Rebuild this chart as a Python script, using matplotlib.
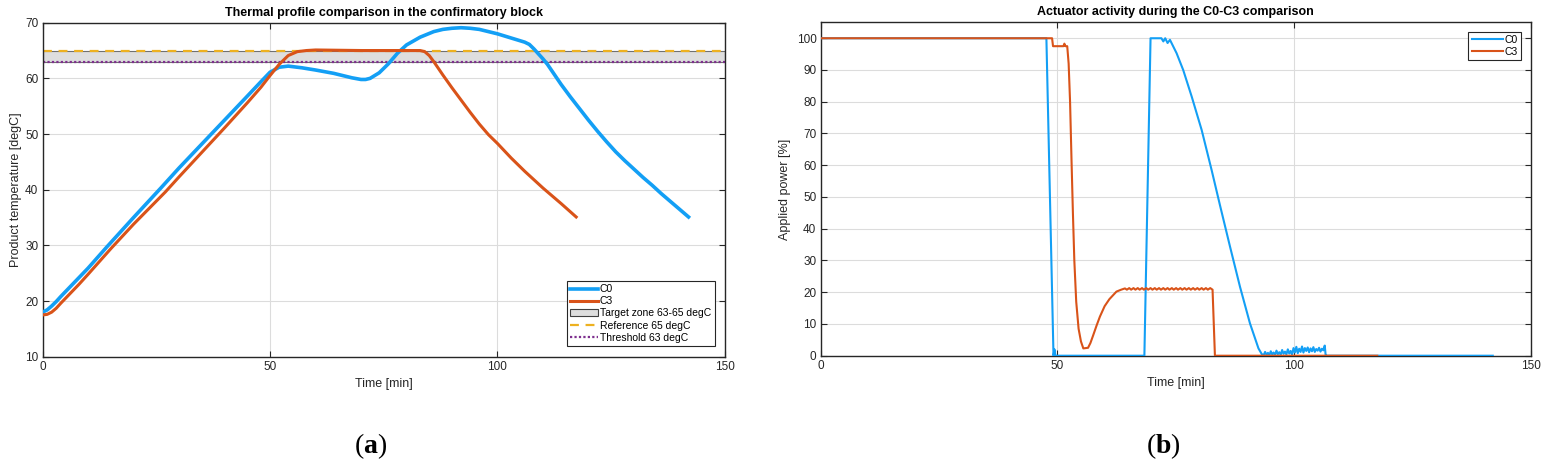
import matplotlib
matplotlib.use("Agg")
import matplotlib.pyplot as plt
from matplotlib.patches import Patch
from matplotlib.lines import Line2D

plt.rcParams['font.family'] = ['Liberation Sans', 'DejaVu Sans']
plt.rcParams['mathtext.fontset'] = 'custom'
plt.rcParams['mathtext.bf'] = 'Liberation Serif:bold'
plt.rcParams['mathtext.rm'] = 'Liberation Serif'

# ---------------- data: panel (a) product temperature ----------------
t_c0_temp = [0, 1, 2, 3, 4, 6, 8, 10, 14, 20, 26, 30, 35, 40, 45, 48, 50, 52, 54, 57, 60,
             64, 68, 70, 71, 72, 74, 76, 78, 80, 83, 86, 88, 90, 92, 94, 96, 98, 100,
             102, 104, 106, 107, 108, 109, 110, 111, 112, 114, 116, 118, 120, 122, 124,
             126, 128, 130, 132, 134, 136, 138, 140, 142]
T_c0 = [18.0, 18.4, 19.1, 19.9, 20.8, 22.5, 24.2, 25.9, 29.6, 35.0, 40.3, 43.9, 48.2, 52.5,
        56.8, 59.4, 61.1, 62.0, 62.2, 61.9, 61.5, 60.9, 60.1, 59.8, 59.8, 60.0, 61.0, 62.6,
        64.5, 66.0, 67.4, 68.4, 68.8, 69.0, 69.1, 69.0, 68.8, 68.4, 68.0,
        67.5, 67.0, 66.5, 66.1, 65.3, 64.4, 63.5, 62.5, 61.3, 58.9, 56.7, 54.6, 52.5, 50.5,
        48.6, 46.8, 45.2, 43.7, 42.2, 40.8, 39.3, 37.9, 36.5, 35.1]

t_c3_temp = [0, 1, 2, 3, 4, 6, 8, 10, 15, 20, 27, 30, 35, 40, 45, 48, 50, 52, 54, 56, 58, 60,
             70, 80, 83, 84, 85, 86, 87, 88, 90, 92, 94, 96, 98, 100, 103, 106, 108, 110,
             112, 114, 117.3]
T_c3 = [17.5, 17.6, 18.0, 18.7, 19.6, 21.3, 23.0, 24.8, 29.4, 33.8, 39.6, 42.3, 46.7, 51.1,
        55.6, 58.4, 60.5, 62.5, 64.1, 64.8, 65.0, 65.1, 65.0, 65.0, 65.0, 64.8, 64.1, 63.0,
        61.8, 60.6, 58.3, 56.1, 53.9, 51.8, 49.9, 48.3, 45.7, 43.3, 41.8, 40.3,
        38.9, 37.5, 35.1]

zone_low, zone_high = 63, 65
reference_temp = 65
threshold_temp = 63

# ---------------- data: panel (b) applied power ----------------
t_c0_pow = [0, 47.7, 49.2, 49.4, 49.6, 68.4, 69.7, 72.0, 72.4, 72.8, 73.3, 73.8, 74.3, 75.2,
            76.6, 78.4, 80.5, 82.6, 84.4, 86.5, 88.6, 90.7, 92.5, 93.2,
            93.6, 93.9, 94.2, 94.5, 94.8, 95.1, 95.4, 95.7, 96.0, 96.3, 96.6, 96.9, 97.2,
            97.5, 97.8, 98.1, 98.4, 98.7, 99.0, 99.3, 99.6, 99.9, 100.2, 100.5, 100.8,
            101.1, 101.4, 101.7, 102.0, 102.3, 102.6, 102.9, 103.2, 103.5, 103.8, 104.1,
            104.4, 104.7, 105.0, 105.3, 105.6, 105.9, 106.2, 106.5, 106.7, 106.8, 142.0]
P_c0 = [100, 100, 0, 2.0, 0, 0, 100, 100, 99.0, 100, 98.5, 99.5, 98.0, 95.3,
        90.0, 81.6, 71.1, 58.5, 47.2, 34.3, 21.7, 10.2, 2.3, 0.5,
        0.2, 1.2, 0.3, 0.9, 0.1, 1.4, 0.4, 1.0, 0.2, 1.6, 0.5, 1.1, 0.3, 1.8,
        0.6, 1.3, 0.4, 2.0, 0.7, 1.5, 0.3, 2.4, 1.0, 2.8, 0.8, 2.2, 1.2, 2.9,
        1.0, 2.4, 1.5, 2.6, 1.1, 2.3, 1.4, 2.7, 1.2, 2.1, 1.6, 2.5, 1.3, 2.2,
        1.7, 3.2, 0.0, 0.0, 0.0]

t_c3_pow = [0, 48.9, 49.1, 51.3, 51.5, 51.7, 52.1, 52.4, 52.7, 53.0, 53.3, 53.6, 54.0, 54.5,
            55.0, 55.5, 56.5, 57.0, 57.6, 58.3, 59.0, 60.0, 61.0, 62.0, 62.5, 63.5, 64.3,
            64.7, 65.2, 65.6, 66.1, 66.5, 67.0, 67.4, 67.9, 68.3, 68.8, 69.2, 69.7, 70.1,
            70.6, 71.0, 71.5, 71.9, 72.4, 72.8, 73.3, 73.7, 74.2, 74.6, 75.1, 75.5, 76.0,
            76.4, 76.9, 77.3, 77.8, 78.2, 78.7, 79.1, 79.6, 80.0, 80.5, 80.9, 81.4, 81.8,
            82.3, 82.8, 83.3, 117.6]
P_c3 = [100, 100, 97.5, 97.5, 98.3, 97.5, 97.5, 92.0, 80.0, 62.0, 45.0, 30.0, 17.0, 8.5,
        4.5, 2.3, 2.5, 4.0, 6.5, 9.5, 12.3, 15.6, 17.8, 19.4, 20.2, 20.8, 21.2,
        20.8, 21.3, 20.8, 21.3, 20.8, 21.3, 20.8, 21.3, 20.8, 21.3, 20.8, 21.3, 20.8,
        21.3, 20.8, 21.3, 20.8, 21.3, 20.8, 21.3, 20.8, 21.3, 20.8, 21.3, 20.8, 21.3,
        20.8, 21.3, 20.8, 21.3, 20.8, 21.3, 20.8, 21.3, 20.8, 21.3, 20.8, 21.3, 20.8,
        21.3, 20.8, 0.0, 0.0]

x_ticks = [0, 50, 100, 150]
temp_ticks = [10, 20, 30, 40, 50, 60, 70]
pow_ticks = [0, 10, 20, 30, 40, 50, 60, 70, 80, 90, 100]

C0_COLOR = '#139FF5'
C3_COLOR = '#D95319'
REF_COLOR = '#EDB120'
THR_COLOR = '#7E2F8E'

fig = plt.figure(figsize=(15.48, 4.67), dpi=100)
ax1 = fig.add_axes([0.0275, 0.2362, 0.4408, 0.7152])
ax2 = fig.add_axes([0.5301, 0.2383, 0.4587, 0.7138])


def style_axes(ax):
    ax.grid(True, color='#DCDCDC', linewidth=0.8)
    ax.set_axisbelow(True)
    for s in ax.spines.values():
        s.set_color('#262626')
        s.set_linewidth(1.0)
    ax.tick_params(direction='in', top=True, right=True, length=4, width=0.8,
                   labelsize=8.5, colors='#262626', pad=3)


# ---- panel (a)
ax1.fill_between([0, 150], [zone_low, zone_low], [zone_high, zone_high],
                 facecolor='#DEDEDE', edgecolor='#707070', linewidth=0.8, zorder=1)
ax1.axhline(reference_temp, color=REF_COLOR, linestyle=(0, (4, 3)), linewidth=1.6, zorder=2)
ax1.axhline(threshold_temp, color=THR_COLOR, linestyle=(0, (1, 1)), linewidth=1.6, zorder=2)
ax1.plot(t_c0_temp, T_c0, color=C0_COLOR, linewidth=2.6, zorder=3)
ax1.plot(t_c3_temp, T_c3, color=C3_COLOR, linewidth=2.2, zorder=4)
ax1.set_xlim(0, 150)
ax1.set_ylim(10, 70)
ax1.set_xticks(x_ticks)
ax1.set_yticks(temp_ticks)
style_axes(ax1)
ax1.set_xlabel('Time [min]', fontsize=9, color='#262626', labelpad=4)
ax1.set_ylabel('Product temperature [degC]', fontsize=9, color='#262626', labelpad=2)
ax1.set_title('Thermal profile comparison in the confirmatory block', fontsize=9,
              fontweight='bold', pad=5)

handles = [
    Line2D([], [], color=C0_COLOR, linewidth=2.6),
    Line2D([], [], color=C3_COLOR, linewidth=2.2),
    Patch(facecolor='#DEDEDE', edgecolor='#404040', linewidth=0.8),
    Line2D([], [], color=REF_COLOR, linestyle=(0, (4, 3)), linewidth=1.6),
    Line2D([], [], color=THR_COLOR, linestyle=(0, (1, 1)), linewidth=1.6),
]
labels = ['C0', 'C3', 'Target zone 63-65 degC', 'Reference 65 degC', 'Threshold 63 degC']
leg1 = ax1.legend(handles, labels, loc='lower right', fontsize=7.5, frameon=True,
                  fancybox=False, edgecolor='#262626', framealpha=1,
                  borderpad=0.35, labelspacing=0.2, handlelength=2.6, handletextpad=0.2,
                  borderaxespad=1.0)
leg1.get_frame().set_linewidth(0.8)

# ---- panel (b)
ax2.plot(t_c0_pow, P_c0, color=C0_COLOR, linewidth=1.5, zorder=3)
ax2.plot(t_c3_pow, P_c3, color=C3_COLOR, linewidth=1.5, zorder=4)
ax2.set_xlim(0, 150)
ax2.set_ylim(0, 105)
ax2.set_xticks(x_ticks)
ax2.set_yticks(pow_ticks)
style_axes(ax2)
ax2.set_xlabel('Time [min]', fontsize=9, color='#262626', labelpad=4)
ax2.set_ylabel('Applied power [%]', fontsize=9, color='#262626', labelpad=4)
ax2.set_title('Actuator activity during the C0-C3 comparison', fontsize=9,
              fontweight='bold', pad=5)
leg2 = ax2.legend(['C0', 'C3'], loc='upper right', fontsize=7.5, frameon=True,
                  fancybox=False, edgecolor='#262626', framealpha=1,
                  borderpad=0.3, labelspacing=0.2, handlelength=3.0, handletextpad=0.2,
                  borderaxespad=0.9)
leg2.get_frame().set_linewidth(0.8)

# captions
fig.text(371 / 1548, 1 - 446 / 467, r'$\mathrm{(}\mathbf{a}\mathrm{)}$', fontsize=20,
         ha='center', va='center')
fig.text(1163 / 1548, 1 - 446 / 467, r'$\mathrm{(}\mathbf{b}\mathrm{)}$', fontsize=20,
         ha='center', va='center')

fig.savefig('out.png', dpi=100)
